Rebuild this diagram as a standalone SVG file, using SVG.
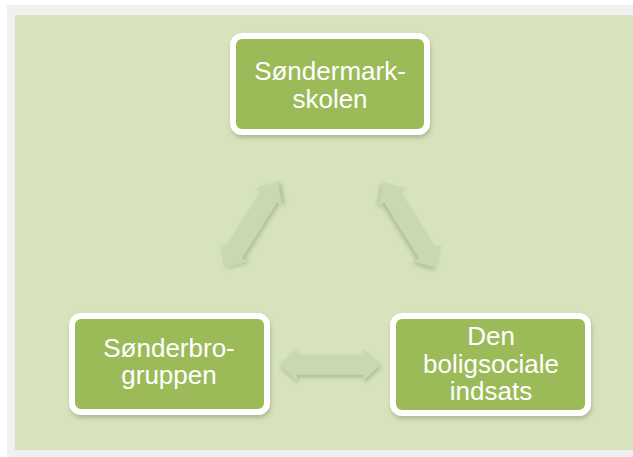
<svg xmlns="http://www.w3.org/2000/svg" width="633" height="457" viewBox="0 0 633 457">
<style>
.box{fill:#9bbb59;stroke:#ffffff;stroke-width:6}
.lbl{font-family:"Liberation Sans",Arial,sans-serif;font-size:26px;fill:#ffffff;text-anchor:middle}
.arr{fill:#c9d9af}
</style>
<defs>
<filter id="bsh" x="-20%" y="-20%" width="140%" height="150%">
<feDropShadow dx="1" dy="3" stdDeviation="2" flood-color="#5f6f40" flood-opacity="0.35"/>
</filter>
<filter id="ash" x="-30%" y="-30%" width="160%" height="160%">
<feDropShadow dx="1" dy="3" stdDeviation="2" flood-color="#7f8f60" flood-opacity="0.45"/>
</filter>
<path id="dbl" d="M-51,0 L-33,-16 L-33,-10 L33,-10 L33,-16 L51,0 L33,16 L33,10 L-33,10 L-33,16 Z"/>
</defs>
<rect x="0" y="0" width="633" height="457" fill="#ffffff"/>
<rect x="7" y="5" width="626" height="452" fill="#f0f0f0"/>
<rect x="15" y="15" width="618" height="435" fill="#d7e3bd"/>
<g id="connectors">
<use href="#dbl" class="arr" filter="url(#ash)" transform="translate(251,225) rotate(-58)"/>
<use href="#dbl" class="arr" filter="url(#ash)" transform="translate(410,225) rotate(58)"/>
<use href="#dbl" class="arr" filter="url(#ash)" transform="translate(330,364.5)"/>
</g>
<g id="node-sondermarkskolen">
<rect class="box" x="233" y="36" width="194" height="96" rx="9" filter="url(#bsh)"/>
<text class="lbl" x="330" y="80">Søndermark-</text>
<text class="lbl" x="330" y="108">skolen</text>
</g>
<g id="node-sonderbrogruppen">
<rect class="box" x="72" y="316" width="195" height="96" rx="9" filter="url(#bsh)"/>
<text class="lbl" x="169" y="357">Sønderbro-</text>
<text class="lbl" x="169" y="384">gruppen</text>
</g>
<g id="node-boligsociale">
<rect class="box" x="393" y="316" width="195" height="97" rx="9" filter="url(#bsh)"/>
<text class="lbl" x="491" y="345">Den</text>
<text class="lbl" x="491" y="372.5">boligsociale</text>
<text class="lbl" x="491" y="400">indsats</text>
</g>
</svg>
